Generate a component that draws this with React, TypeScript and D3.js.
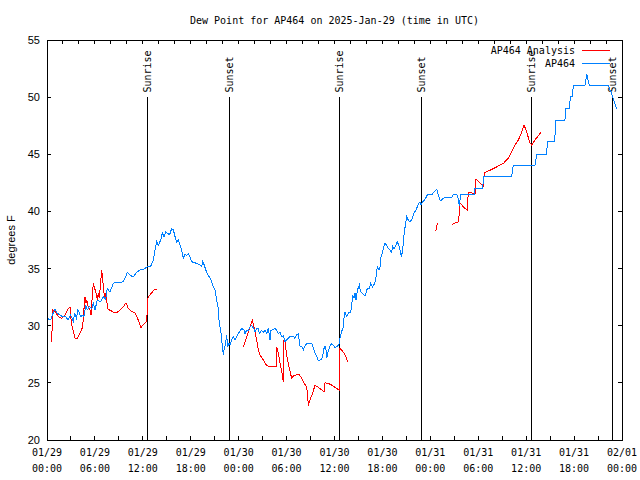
import React from "react";
import * as d3 from "d3";

const W = 640, H = 480;
const M = { left: 47, right: 18, top: 40, bottom: 40 };

const TITLE = "Dew Point for AP464 on 2025-Jan-29 (time in UTC)";
const Y_LABEL = "degrees F";
const SERIES_NAMES = ["AP464 Analysis", "AP464"];
const SERIES_COLORS = ["#ff0000", "#0080ff"];

const yTicks = [20, 25, 30, 35, 40, 45, 50, 55];
const xTickHours = [0, 6, 12, 18, 24, 30, 36, 42, 48, 54, 60, 66, 72];
const xTickDates = ["01/29", "01/29", "01/29", "01/29", "01/30", "01/30", "01/30", "01/30", "01/31", "01/31", "01/31", "01/31", "02/01"];
const xTickTimes = ["00:00", "06:00", "12:00", "18:00", "00:00", "06:00", "12:00", "18:00", "00:00", "06:00", "12:00", "18:00", "00:00"];

const sunLabels = ["Sunrise", "Sunset", "Sunrise", "Sunset", "Sunrise", "Sunset"];
const sunHours = [12.6, 22.83, 36.6, 46.87, 60.65, 70.79];

// AP464 observations: hours since 2025-01-29 00:00 UTC
const obsHours = [
  0.0, 0.46, 0.67, 1.0, 1.29, 1.92, 2.34, 2.63, 2.96, 3.3, 3.46, 3.67, 3.88, 4.22, 4.51, 4.63, 4.85, 5.05, 5.34, 5.6,
  5.8, 6.01, 6.3, 6.72, 7.05, 7.35, 7.55, 7.89, 8.3, 8.6, 9.02, 9.55, 9.85, 10.06, 10.56, 10.89, 11.23, 11.73, 12.15, 12.56,
  12.98, 13.31, 13.52, 13.74, 13.94, 14.24, 14.44, 14.65, 14.86, 15.1, 15.35, 15.61, 15.82, 16.03, 16.24, 16.44, 16.65, 16.86, 17.07, 17.28,
  17.49, 17.7, 17.9, 18.12, 18.53, 18.95, 19.37, 19.5, 19.7, 19.87, 20.12, 20.41, 20.62, 20.83, 21.04, 21.25, 21.45, 21.54, 21.79, 21.88,
  22.08, 22.2, 22.37, 22.5, 22.63, 22.79, 22.92, 23.13, 23.33, 23.54, 23.75, 24.04, 24.38, 24.71, 24.79, 25.0, 25.21, 25.42, 25.63, 25.88,
  26.05, 26.26, 26.46, 26.58, 26.88, 27.09, 27.3, 27.51, 27.71, 27.92, 28.05, 28.21, 28.55, 28.76, 28.96, 29.18, 29.39, 29.59, 29.8, 30.01,
  30.22, 30.43, 30.84, 31.05, 31.27, 31.47, 31.68, 31.89, 32.1, 32.31, 32.52, 33.15, 33.35, 33.56, 33.77, 33.97, 34.4, 34.6, 34.73, 34.9,
  35.02, 35.15, 35.44, 35.65, 35.85, 36.06, 36.28, 36.48, 36.6, 36.69, 36.9, 37.1, 37.19, 37.32, 37.53, 37.73, 38.03, 38.15, 38.28, 38.44,
  38.57, 38.69, 38.86, 39.11, 39.28, 39.61, 39.82, 40.11, 40.36, 40.53, 40.74, 41.03, 41.2, 41.36, 41.57, 41.7, 41.79, 41.91, 42.11, 42.32,
  42.54, 42.74, 42.95, 43.16, 43.29, 43.45, 43.7, 43.86, 44.04, 44.2, 44.37, 44.54, 44.7, 44.87, 45.04, 45.24, 45.45, 45.67, 45.79, 45.96,
  46.21, 46.37, 46.55, 46.71, 46.83, 47.04, 47.33, 47.62, 48.17, 48.59, 48.8, 49.0, 49.21, 49.42, 49.62, 49.96, 50.68, 50.88, 51.3, 51.5,
  51.63, 51.8, 53.5, 53.6, 54.55, 54.7, 58.19, 58.39, 61.1, 61.35, 62.57, 62.65, 63.55, 63.65, 63.74, 64.86, 64.95, 65.4, 65.55, 65.8,
  65.9, 67.37, 67.58, 67.9, 70.28, 70.7, 71.33,
];
const obsValues = [
  30.65, 30.5, 30.95, 31.45, 31.1, 30.8, 30.8, 30.5, 30.95, 30.35, 31.1, 30.65, 31.4, 30.8, 30.95, 30.8, 31.8, 31.4, 31.7, 31.5,
  31.95, 31.4, 32.25, 32.1, 32.55, 32.3, 33.25, 32.95, 33.7, 33.8, 33.75, 33.85, 34.3, 34.65, 34.35, 34.35, 34.7, 34.9, 34.95, 35.15,
  35.2, 35.75, 36.6, 37.35, 37.05, 37.5, 38.1, 37.8, 38.2, 38.1, 37.95, 38.5, 38.4, 37.8, 37.35, 37.5, 37.05, 36.6, 35.9, 36.3,
  36.15, 36.3, 36.0, 35.6, 35.5, 35.4, 35.2, 35.6, 35.3, 34.9, 34.45, 34.2, 33.85, 33.4, 33.1, 32.25, 31.5, 30.5, 29.35, 28.75,
  27.45, 28.0, 28.45, 29.2, 28.15, 28.45, 28.3, 28.75, 29.05, 28.75, 29.05, 29.4, 29.75, 29.6, 29.3, 29.6, 29.6, 29.9, 30.05, 29.75,
  29.45, 29.75, 29.75, 29.3, 29.6, 29.4, 29.6, 29.3, 29.75, 28.75, 29.6, 29.65, 29.75, 29.6, 29.3, 29.45, 29.05, 29.1, 28.6, 28.75,
  28.9, 29.1, 29.05, 28.9, 29.2, 29.3, 28.2, 28.2, 27.9, 28.2, 28.45, 28.45, 28.05, 27.6, 27.3, 26.95, 27.05, 27.6, 28.2, 28.2,
  27.15, 27.6, 28.2, 28.45, 28.3, 28.05, 28.2, 28.25, 28.45, 28.9, 29.5, 29.9, 30.65, 31.2, 30.8, 31.1, 31.2, 31.8, 32.7, 32.4,
  32.85, 32.25, 33.1, 33.55, 32.95, 32.75, 32.6, 33.25, 33.25, 33.7, 33.4, 33.7, 34.3, 35.15, 34.9, 35.15, 35.9, 36.2, 36.75, 37.2,
  37.05, 36.75, 36.6, 36.45, 36.95, 36.75, 37.05, 37.35, 37.05, 36.6, 36.05, 36.6, 37.95, 38.8, 39.55, 39.25, 39.1, 39.25, 39.55, 39.85,
  40.15, 40.4, 40.7, 40.85, 40.55, 40.85, 41.05, 41.45, 41.45, 41.8, 41.95, 41.45, 41.0, 41.0, 41.15, 41.25, 41.25, 41.5, 41.5, 41.15,
  40.5, 41.5, 41.5, 42.05, 42.05, 43.1, 43.1, 44.05, 44.05, 45.0, 45.0, 46.1, 46.1, 47.1, 48.0, 48.0, 49.0, 49.0, 50.05, 50.05,
  51.05, 51.05, 52.0, 51.05, 51.05, 50.3, 49.0,
];

// AP464 Analysis: null values mark gaps
const anaHours = [
  0.59, 0.71, 1.0, 1.42, 1.84, 2.25, 2.67, 2.88, 2.96, 3.09, 3.3, 3.51, 3.8, 4.13, 4.47, 4.55, 4.76, 4.88, 4.97, 5.17,
  5.38, 5.51, 5.6, 5.8, 5.92, 6.14, 6.3, 6.43, 6.55, 6.72, 6.85, 6.97, 7.18, 7.3, 7.47, 7.6, 7.89, 8.3, 8.64, 9.14,
  9.55, 9.89, 10.18, 10.6, 11.02, 11.43, 11.77, 12.15, 12.48, 12.56, 12.61, 12.9, 13.31, 13.52, 13.74,
  20.0,
  24.58, 25.01, 25.42, 25.71, 25.92, 26.17, 26.46, 26.67, 27.09, 27.51, 28.14, 28.68, 28.76, 28.96, 29.18, 29.39, 29.59, 29.68, 29.8, 30.01,
  30.22, 30.43, 30.64, 30.84, 31.27, 31.59, 31.89, 32.1, 32.52, 32.65, 32.72, 32.93, 33.27, 33.56, 33.97, 34.4, 34.69, 34.81, 35.22, 35.65,
  36.06, 36.6, 36.61, 36.69, 36.9, 37.19, 37.44, 37.65,
  43.0,
  48.67, 48.88,
  49.8,
  50.68, 51.09, 51.55, 51.68, 52.15, 52.61, 52.76, 53.31, 53.6, 53.72, 54.22, 54.63, 54.76, 55.47, 56.31, 57.14, 57.76, 58.19, 58.6, 59.02,
  59.44, 59.73, 60.07, 60.4, 60.69, 61.1, 61.82,
];
const anaValues: (number | null)[] = [
  28.6, 31.4, 31.25, 30.8, 30.65, 30.95, 31.5, 31.65, 30.95, 30.05, 29.5, 28.9, 28.9, 29.35, 29.9, 30.8, 32.55, 31.95, 32.25, 31.65,
  31.4, 30.95, 31.95, 33.7, 33.4, 32.85, 32.25, 32.85, 32.4, 33.85, 34.9, 34.0, 32.55, 32.85, 32.25, 31.5, 31.35, 31.2, 31.1, 31.35,
  31.65, 32.0, 31.5, 31.25, 31.1, 30.5, 29.85, 30.15, 30.35, 31.4, 32.4, 32.7, 33.05, 33.2, 33.2,
  null,
  28.15, 29.05, 29.9, 30.45, 29.9, 29.05, 27.9, 27.45, 27.0, 26.5, 26.4, 26.4, 28.15, 27.6, 26.7, 26.0, 25.1, 28.75, 28.6, 27.45,
  26.7, 26.0, 25.4, 25.6, 25.7, 25.7, 25.4, 25.1, 24.6, 23.8, 23.0, 23.5, 24.1, 24.8, 24.6, 24.4, 24.2, 25.0, 24.95, 24.8,
  24.6, 24.35, 26.25, 28.0, 27.85, 27.6, 27.25, 26.85,
  null,
  38.25, 38.95,
  null,
  38.85, 39.0, 39.1, 40.75, 40.4, 40.1, 41.7, 41.6, 41.6, 42.85, 42.5, 42.2, 43.4, 43.6, 43.9, 44.2, 44.65, 45.2, 45.8, 46.25,
  46.95, 47.55, 47.0, 46.1, 45.8, 46.25, 46.9,
];

const MONO = "'DejaVu Sans Mono', monospace";
const SANS = "'Liberation Sans', Arial, sans-serif";

export default function App() {
  const x = d3.scaleLinear().domain([0, 72]).range([M.left, W - M.right]);
  const y = d3.scaleLinear().domain([20, 55]).range([H - M.bottom, M.top]);

  type P = { h: number; v: number | null };
  const line = d3
    .line<P>()
    .defined((d) => d.v !== null)
    .x((d) => x(d.h))
    .y((d) => y(d.v as number));

  const obs: P[] = obsHours.map((h, i) => ({ h, v: obsValues[i] }));
  const ana: P[] = anaHours.map((h, i) => ({ h, v: anaValues[i] }));

  const bottomTicks = d3.range(0, 73, 3);
  const topTicks = d3.range(0, 73, 2);
  const x0 = x(0), x1 = x(72), yTop = y(55), yBot = y(20);

  return (
    <svg width={W} height={H} style={{ position: "absolute", left: 0, top: 0, background: "#fff" }}>
      <rect x={0} y={0} width={W} height={H} fill="#fff" />
      <text x={(x0 + x1) / 2} y={24} textAnchor="middle" fontFamily={MONO} fontSize={10}>
        {TITLE}
      </text>

      {/* ticks */}
      <g stroke="#000" strokeWidth={1} shapeRendering="crispEdges">
        {bottomTicks.map((t) => (
          <line key={"b" + t} x1={x(t)} x2={x(t)} y1={yBot} y2={yBot - 4} />
        ))}
        {topTicks.map((t) => (
          <line key={"t" + t} x1={x(t)} x2={x(t)} y1={yTop} y2={yTop + 4} />
        ))}
        {yTicks.map((v) => (
          <g key={"y" + v}>
            <line x1={x0} x2={x0 + 4} y1={y(v)} y2={y(v)} />
            <line x1={x1} x2={x1 - 4} y1={y(v)} y2={y(v)} />
          </g>
        ))}
      </g>

      {yTicks.map((v) => (
        <text key={"yl" + v} x={40} y={y(v) + 4} textAnchor="end" fontFamily={SANS} fontSize={11}>
          {v}
        </text>
      ))}
      <text
        transform={`translate(15, ${(yTop + yBot) / 2}) rotate(-90)`}
        textAnchor="middle"
        fontFamily={SANS}
        fontSize={11}
      >
        {Y_LABEL}
      </text>

      {xTickHours.map((h, i) => (
        <g key={"xl" + h} fontFamily={MONO} fontSize={10} textAnchor="middle">
          <text x={x(h)} y={456}>{xTickDates[i]}</text>
          <text x={x(h)} y={472}>{xTickTimes[i]}</text>
        </g>
      ))}

      {/* sunrise / sunset markers */}
      {sunHours.map((h, i) => (
        <g key={"s" + i}>
          <line x1={x(h)} x2={x(h)} y1={y(50)} y2={yBot} stroke="#000" strokeWidth={1} shapeRendering="crispEdges" />
          <text
            transform={`translate(${x(h)}, ${y(50.4)}) rotate(-90)`}
            dominantBaseline="central"
            fontFamily={MONO}
            fontSize={10}
          >
            {sunLabels[i]}
          </text>
        </g>
      ))}

      <path d={line(ana) || ""} fill="none" stroke={SERIES_COLORS[0]} strokeWidth={1} shapeRendering="crispEdges" />
      <path d={line(obs) || ""} fill="none" stroke={SERIES_COLORS[1]} strokeWidth={1} shapeRendering="crispEdges" />

      {/* legend */}
      {SERIES_NAMES.map((n, i) => (
        <g key={"lg" + i}>
          <text x={575} y={54 + i * 13} textAnchor="end" fontFamily={MONO} fontSize={10}>
            {n}
          </text>
          <line x1={582} x2={610} y1={50.5 + i * 13} y2={50.5 + i * 13} stroke={SERIES_COLORS[i]} strokeWidth={1} shapeRendering="crispEdges" />
        </g>
      ))}

      <rect x={x0} y={yTop} width={x1 - x0} height={yBot - yTop} fill="none" stroke="#000" strokeWidth={1} shapeRendering="crispEdges" />
    </svg>
  );
}
